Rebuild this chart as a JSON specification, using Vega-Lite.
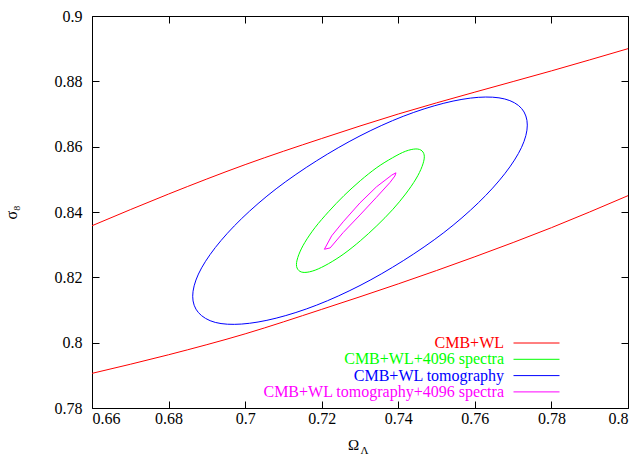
{
  "$schema": "https://vega.github.io/schema/vega-lite/v6.json",
  "width": 536,
  "height": 392,
  "autosize": {"type": "none"},
  "padding": {"left": 92, "top": 16, "right": 12, "bottom": 49},
  "background": "white",
  "config": {
    "font": "Liberation Serif",
    "view": {"stroke": "#000000", "strokeWidth": 1},
    "axis": {
      "domain": false,
      "grid": false,
      "tickColor": "#000000",
      "tickSize": -7,
      "tickWidth": 1,
      "labelFont": "Liberation Serif",
      "labelFontSize": 16,
      "labelColor": "#000000",
      "titleFont": "Liberation Serif",
      "titleColor": "#000000",
      "titleFontWeight": "normal"
    },
    "legend": {
      "labelFont": "Liberation Serif",
      "labelFontSize": 16
    }
  },
  "data": {
    "values": [
      {"s": "CMB+WL", "p": "upper", "o": 0, "x": 0.66, "y": 0.8358},
      {"s": "CMB+WL", "p": "upper", "o": 1, "x": 0.68, "y": 0.8455},
      {"s": "CMB+WL", "p": "upper", "o": 2, "x": 0.70, "y": 0.8545},
      {"s": "CMB+WL", "p": "upper", "o": 3, "x": 0.72, "y": 0.8625},
      {"s": "CMB+WL", "p": "upper", "o": 4, "x": 0.74, "y": 0.8700},
      {"s": "CMB+WL", "p": "upper", "o": 5, "x": 0.76, "y": 0.8767},
      {"s": "CMB+WL", "p": "upper", "o": 6, "x": 0.78, "y": 0.8832},
      {"s": "CMB+WL", "p": "upper", "o": 7, "x": 0.80, "y": 0.8900},
      {"s": "CMB+WL", "p": "lower", "o": 0, "x": 0.66, "y": 0.7906},
      {"s": "CMB+WL", "p": "lower", "o": 1, "x": 0.68, "y": 0.7963},
      {"s": "CMB+WL", "p": "lower", "o": 2, "x": 0.70, "y": 0.8027},
      {"s": "CMB+WL", "p": "lower", "o": 3, "x": 0.72, "y": 0.8102},
      {"s": "CMB+WL", "p": "lower", "o": 4, "x": 0.74, "y": 0.8180},
      {"s": "CMB+WL", "p": "lower", "o": 5, "x": 0.76, "y": 0.8263},
      {"s": "CMB+WL", "p": "lower", "o": 6, "x": 0.78, "y": 0.8352},
      {"s": "CMB+WL", "p": "lower", "o": 7, "x": 0.80, "y": 0.8450},

      {"s": "CMB+WL tomography", "p": "e", "o": 0, "x": 0.7737, "y": 0.8666},
      {"s": "CMB+WL tomography", "p": "e", "o": 1, "x": 0.7722, "y": 0.8717},
      {"s": "CMB+WL tomography", "p": "e", "o": 2, "x": 0.7678, "y": 0.8746},
      {"s": "CMB+WL tomography", "p": "e", "o": 3, "x": 0.7609, "y": 0.8751},
      {"s": "CMB+WL tomography", "p": "e", "o": 4, "x": 0.7519, "y": 0.8733},
      {"s": "CMB+WL tomography", "p": "e", "o": 5, "x": 0.7413, "y": 0.8693},
      {"s": "CMB+WL tomography", "p": "e", "o": 6, "x": 0.7300, "y": 0.8633},
      {"s": "CMB+WL tomography", "p": "e", "o": 7, "x": 0.7187, "y": 0.8557},
      {"s": "CMB+WL tomography", "p": "e", "o": 8, "x": 0.7081, "y": 0.8471},
      {"s": "CMB+WL tomography", "p": "e", "o": 9, "x": 0.6991, "y": 0.8380},
      {"s": "CMB+WL tomography", "p": "e", "o": 10, "x": 0.6922, "y": 0.8291},
      {"s": "CMB+WL tomography", "p": "e", "o": 11, "x": 0.6878, "y": 0.8210},
      {"s": "CMB+WL tomography", "p": "e", "o": 12, "x": 0.6863, "y": 0.8142},
      {"s": "CMB+WL tomography", "p": "e", "o": 13, "x": 0.6878, "y": 0.8092},
      {"s": "CMB+WL tomography", "p": "e", "o": 14, "x": 0.6922, "y": 0.8062},
      {"s": "CMB+WL tomography", "p": "e", "o": 15, "x": 0.6991, "y": 0.8057},
      {"s": "CMB+WL tomography", "p": "e", "o": 16, "x": 0.7081, "y": 0.8075},
      {"s": "CMB+WL tomography", "p": "e", "o": 17, "x": 0.7187, "y": 0.8115},
      {"s": "CMB+WL tomography", "p": "e", "o": 18, "x": 0.7300, "y": 0.8175},
      {"s": "CMB+WL tomography", "p": "e", "o": 19, "x": 0.7413, "y": 0.8251},
      {"s": "CMB+WL tomography", "p": "e", "o": 20, "x": 0.7519, "y": 0.8337},
      {"s": "CMB+WL tomography", "p": "e", "o": 21, "x": 0.7609, "y": 0.8428},
      {"s": "CMB+WL tomography", "p": "e", "o": 22, "x": 0.7678, "y": 0.8517},
      {"s": "CMB+WL tomography", "p": "e", "o": 23, "x": 0.7722, "y": 0.8598},

      {"s": "CMB+WL+4096 spectra", "p": "e", "o": 0, "x": 0.7468, "y": 0.8569},
      {"s": "CMB+WL+4096 spectra", "p": "e", "o": 1, "x": 0.7462, "y": 0.8587},
      {"s": "CMB+WL+4096 spectra", "p": "e", "o": 2, "x": 0.7446, "y": 0.8593},
      {"s": "CMB+WL+4096 spectra", "p": "e", "o": 3, "x": 0.7419, "y": 0.8586},
      {"s": "CMB+WL+4096 spectra", "p": "e", "o": 4, "x": 0.7385, "y": 0.8566},
      {"s": "CMB+WL+4096 spectra", "p": "e", "o": 5, "x": 0.7344, "y": 0.8536},
      {"s": "CMB+WL+4096 spectra", "p": "e", "o": 6, "x": 0.7301, "y": 0.8496},
      {"s": "CMB+WL+4096 spectra", "p": "e", "o": 7, "x": 0.7258, "y": 0.8450},
      {"s": "CMB+WL+4096 spectra", "p": "e", "o": 8, "x": 0.7218, "y": 0.8401},
      {"s": "CMB+WL+4096 spectra", "p": "e", "o": 9, "x": 0.7183, "y": 0.8353},
      {"s": "CMB+WL+4096 spectra", "p": "e", "o": 10, "x": 0.7156, "y": 0.8307},
      {"s": "CMB+WL+4096 spectra", "p": "e", "o": 11, "x": 0.7140, "y": 0.8269},
      {"s": "CMB+WL+4096 spectra", "p": "e", "o": 12, "x": 0.7134, "y": 0.8239},
      {"s": "CMB+WL+4096 spectra", "p": "e", "o": 13, "x": 0.7140, "y": 0.8221},
      {"s": "CMB+WL+4096 spectra", "p": "e", "o": 14, "x": 0.7156, "y": 0.8215},
      {"s": "CMB+WL+4096 spectra", "p": "e", "o": 15, "x": 0.7183, "y": 0.8222},
      {"s": "CMB+WL+4096 spectra", "p": "e", "o": 16, "x": 0.7218, "y": 0.8242},
      {"s": "CMB+WL+4096 spectra", "p": "e", "o": 17, "x": 0.7258, "y": 0.8272},
      {"s": "CMB+WL+4096 spectra", "p": "e", "o": 18, "x": 0.7301, "y": 0.8312},
      {"s": "CMB+WL+4096 spectra", "p": "e", "o": 19, "x": 0.7344, "y": 0.8358},
      {"s": "CMB+WL+4096 spectra", "p": "e", "o": 20, "x": 0.7385, "y": 0.8407},
      {"s": "CMB+WL+4096 spectra", "p": "e", "o": 21, "x": 0.7419, "y": 0.8455},
      {"s": "CMB+WL+4096 spectra", "p": "e", "o": 22, "x": 0.7446, "y": 0.8501},
      {"s": "CMB+WL+4096 spectra", "p": "e", "o": 23, "x": 0.7462, "y": 0.8539},

      {"s": "CMB+WL tomography+4096 spectra", "p": "m", "o": 0, "x": 0.7207, "y": 0.8286},
      {"s": "CMB+WL tomography+4096 spectra", "p": "m", "o": 1, "x": 0.7222, "y": 0.8290},
      {"s": "CMB+WL tomography+4096 spectra", "p": "m", "o": 2, "x": 0.7256, "y": 0.8337},
      {"s": "CMB+WL tomography+4096 spectra", "p": "m", "o": 3, "x": 0.7300, "y": 0.8391},
      {"s": "CMB+WL tomography+4096 spectra", "p": "m", "o": 4, "x": 0.7343, "y": 0.8445},
      {"s": "CMB+WL tomography+4096 spectra", "p": "m", "o": 5, "x": 0.7378, "y": 0.8490},
      {"s": "CMB+WL tomography+4096 spectra", "p": "m", "o": 6, "x": 0.7391, "y": 0.8510},
      {"s": "CMB+WL tomography+4096 spectra", "p": "m", "o": 7, "x": 0.7394, "y": 0.8520},
      {"s": "CMB+WL tomography+4096 spectra", "p": "m", "o": 8, "x": 0.7383, "y": 0.8513},
      {"s": "CMB+WL tomography+4096 spectra", "p": "m", "o": 9, "x": 0.7343, "y": 0.8477},
      {"s": "CMB+WL tomography+4096 spectra", "p": "m", "o": 10, "x": 0.7300, "y": 0.8428},
      {"s": "CMB+WL tomography+4096 spectra", "p": "m", "o": 11, "x": 0.7256, "y": 0.8370},
      {"s": "CMB+WL tomography+4096 spectra", "p": "m", "o": 12, "x": 0.7226, "y": 0.8327},
      {"s": "CMB+WL tomography+4096 spectra", "p": "m", "o": 13, "x": 0.7213, "y": 0.8299}
    ]
  },
  "resolve": {"axis": {"x": "independent", "y": "independent"}},
  "layer": [
    {
      "transform": [{"filter": "datum.s === 'CMB+WL'"}],
      "mark": {"type": "line", "interpolate": "monotone", "strokeWidth": 1, "clip": true},
      "encoding": {
        "x": {
          "field": "x", "type": "quantitative",
          "scale": {"domain": [0.66, 0.8], "nice": false, "zero": false},
          "axis": {
            "orient": "bottom",
            "values": [0.66, 0.68, 0.7, 0.72, 0.74, 0.76, 0.78, 0.8],
            "format": "~g",
            "labelFont": "Liberation Serif",
            "labelFontSize": 16,
            "labelColor": "#000000",
            "labelPadding": 9,
            "title": "Ω",
            "titleFont": "Liberation Serif",
            "titleFontSize": 15,
            "titleFontWeight": "normal",
            "titleColor": "#000000",
            "titleX": 261,
            "titleY": 41,
            "titleAlign": "center",
            "titleBaseline": "alphabetic"
          }
        },
        "y": {
          "field": "y", "type": "quantitative",
          "scale": {"domain": [0.78, 0.9], "nice": false, "zero": false},
          "axis": {
            "orient": "left",
            "values": [0.78, 0.8, 0.82, 0.84, 0.86, 0.88, 0.9],
            "format": "~g",
            "labelFont": "Liberation Serif",
            "labelFontSize": 16,
            "labelColor": "#000000",
            "labelPadding": 17,
            "title": "σ₈",
            "titleFont": "Liberation Serif",
            "titleFontSize": 16,
            "titleFontWeight": "normal",
            "titleColor": "#000000",
            "titleX": -73,
            "titleY": 196,
            "titleAlign": "center",
            "titleAngle": -90
          }
        },
        "color": {
          "field": "s", "type": "nominal",
          "scale": {
            "domain": ["CMB+WL", "CMB+WL+4096 spectra", "CMB+WL tomography", "CMB+WL tomography+4096 spectra"],
            "range": ["#ff0000", "#00ff00", "#0000ff", "#ff00ff"]
          },
          "legend": {
            "title": null,
            "orient": "none",
            "legendX": 421,
            "legendY": 319,
            "padding": 0,
            "symbolType": "stroke",
            "symbolSize": 2116,
            "symbolStrokeWidth": 1,
            "labelAlign": "right",
            "labelOffset": -56,
            "labelLimit": 400,
            "rowPadding": 0.3,
            "labelFont": "Liberation Serif",
            "labelFontSize": 16,
            "encode": {
              "labels": {"update": {"fill": {"scale": "color", "field": "value"}, "y": {"value": 8}}},
              "symbols": {"update": {"stroke": {"scale": "color", "field": "value"}, "y": {"value": 8}}}
            }
          }
        },
        "detail": {"field": "p"},
        "order": {"field": "o", "type": "quantitative"}
      }
    },
    {
      "transform": [{"filter": "datum.s === 'CMB+WL tomography' || datum.s === 'CMB+WL+4096 spectra'"}],
      "mark": {"type": "line", "interpolate": "cardinal-closed", "strokeWidth": 1},
      "encoding": {
        "x": {
          "field": "x", "type": "quantitative",
          "axis": {
            "orient": "top",
            "values": [0.66, 0.68, 0.7, 0.72, 0.74, 0.76, 0.78, 0.8],
            "labels": false,
            "title": null
          }
        },
        "y": {
          "field": "y", "type": "quantitative",
          "axis": {
            "orient": "right",
            "values": [0.78, 0.8, 0.82, 0.84, 0.86, 0.88, 0.9],
            "labels": false,
            "title": null
          }
        },
        "color": {"field": "s", "type": "nominal"},
        "order": {"field": "o", "type": "quantitative"}
      }
    },
    {
      "transform": [{"filter": "datum.s === 'CMB+WL tomography+4096 spectra'"}],
      "mark": {"type": "line", "interpolate": "linear-closed", "strokeWidth": 1},
      "encoding": {
        "x": {
          "field": "x", "type": "quantitative",
          "axis": {
            "orient": "bottom",
            "ticks": false,
            "labels": false,
            "domain": false,
            "title": "Λ",
            "titleFont": "Liberation Serif",
            "titleFontSize": 11,
            "titleFontWeight": "normal",
            "titleColor": "#000000",
            "titleX": 272,
            "titleY": 45,
            "titleAlign": "center",
            "titleBaseline": "alphabetic"
          }
        },
        "y": {"field": "y", "type": "quantitative", "axis": null},
        "color": {"field": "s", "type": "nominal"},
        "order": {"field": "o", "type": "quantitative"}
      }
    }
  ]
}
